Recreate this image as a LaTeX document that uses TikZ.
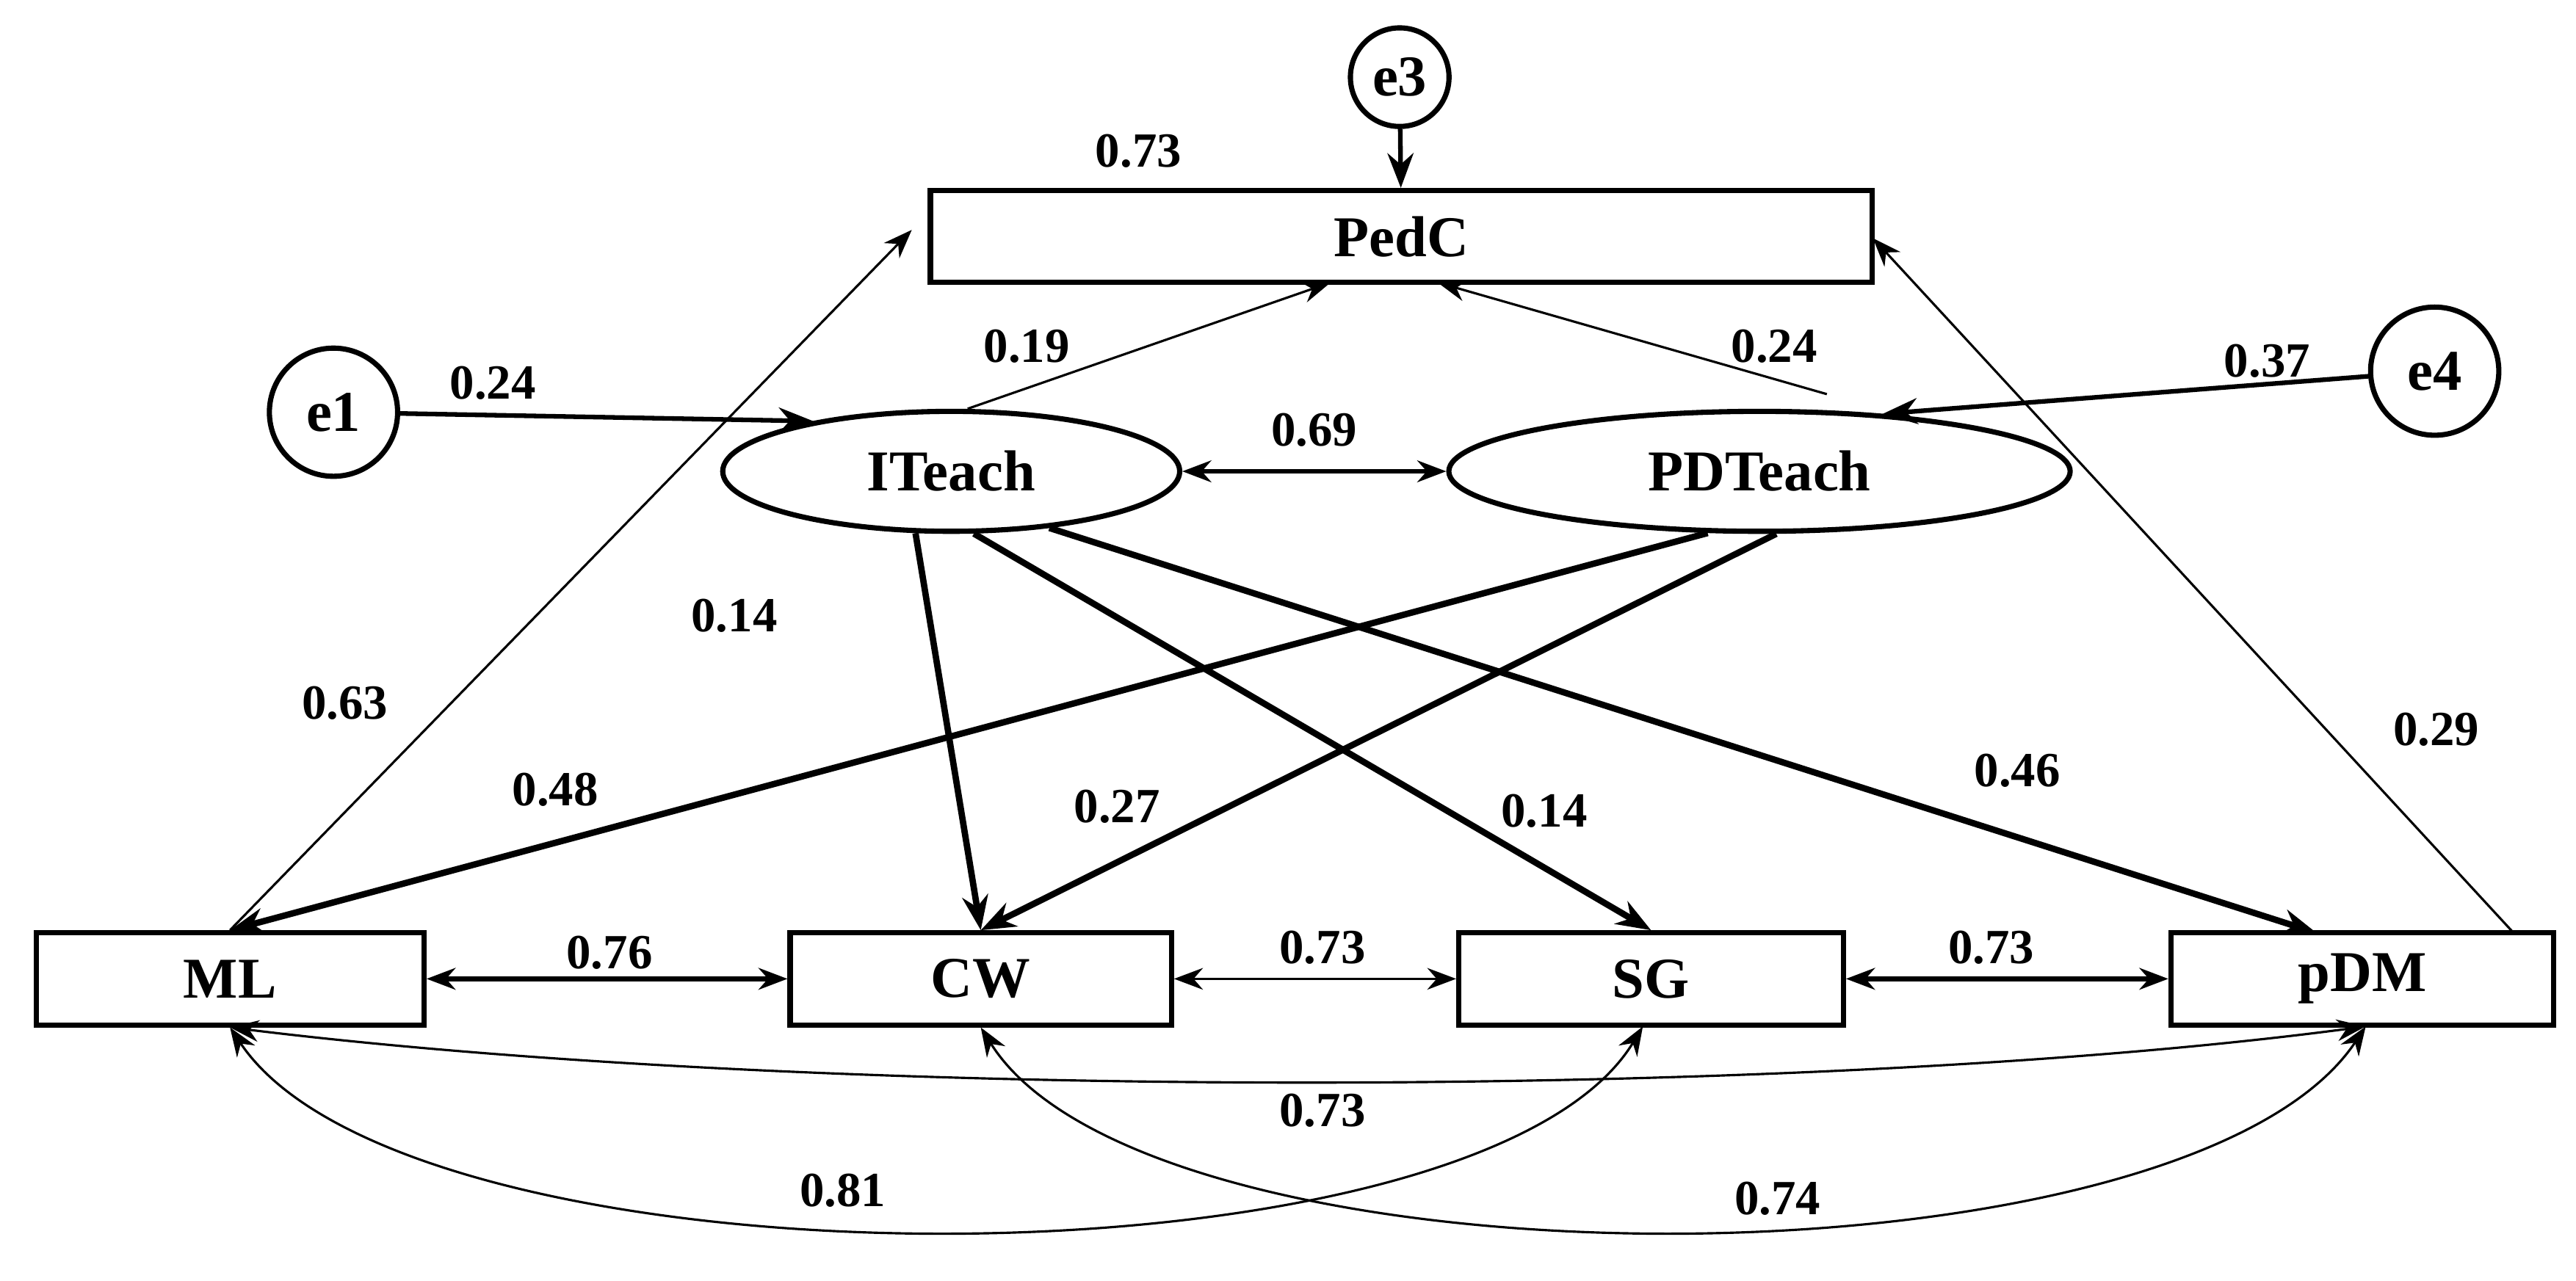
\documentclass[tikz,border=0pt]{standalone}
\usepackage{fontspec}
\setmainfont{Liberation Serif}
\usetikzlibrary{shapes.geometric,arrows.meta}
\begin{document}
\begin{tikzpicture}[x=0.01cm,y=-0.01cm,
  box/.style={draw,line width=0.9pt,minimum height=0.56cm,font=\fontsize{10}{12}\selectfont\bfseries},
  lat/.style={draw,ellipse,line width=0.9pt,minimum width=2.78cm,minimum height=0.73cm,font=\fontsize{10}{12}\selectfont\bfseries},
  err/.style={draw,circle,line width=0.9pt,minimum size=0.6cm,inner sep=0pt,font=\fontsize{10}{12}\selectfont\bfseries},
  lab/.style={font=\fontsize{8.5}{10}\selectfont\bfseries},
  thin/.style={-{Stealth[length=5pt]},line width=0.4pt},
  med/.style={-{Stealth[length=6pt]},line width=0.8pt},
  thick/.style={-{Stealth[length=6pt]},line width=1.1pt},
  dbl/.style={{Stealth[length=5pt]}-{Stealth[length=5pt]},line width=0.8pt},
  dblt/.style={{Stealth[length=5pt]}-{Stealth[length=5pt]},line width=0.4pt}]
\useasboundingbox (0,0) rectangle (1568,780);
\node[err] (e3) at (852,47) {e3};
\node[box,minimum width=5.73cm] (pedc) at (853,144) {PedC};
\node[err,minimum width=0.78cm] (e1) at (203,251) {e1};
\node[err,minimum width=0.78cm] (e4) at (1482,226) {e4};
\node[lat] (it) at (579,287) {ITeach};
\node[lat,minimum width=3.78cm] (pd) at (1071,287) {PDTeach};
\node[box,minimum width=2.36cm] (ml) at (140,596) {ML};
\node[box,minimum width=2.32cm] (cw) at (597,596) {CW};
\node[box,minimum width=2.34cm] (sg) at (1005,596) {SG};
\node[box,minimum width=2.33cm] (pdm) at (1438,596) {pDM};
\coordinate (pl) at (555,140);
\coordinate (pc1) at (810,172);
\coordinate (pc2) at (875,172);
\coordinate (pr) at (1140,145);
\draw[med] (e3) -- (pedc);
\draw[thin] (ml.north) -- (pl);
\draw[thin] (it.north) ++(10,0) -- (pc1);
\draw[thin] (1112,240) -- (pc2);
\draw[thin] (1530,568) -- (pr);
\draw[med] (e1) -- (it.160);
\draw[med] (e4) -- (pd.25);
\draw[dbl] (it.east) -- (pd.west);
\draw[thick] (it.240) -- (cw.north);
\draw[thick] (it.290) -- (sg.north);
\draw[thick] (it.330) -- (1410,568);
\draw[thick] (pd.230) -- (ml.north);
\draw[thick] (pd.285) -- (cw.north);
\draw[dbl] (ml) -- (cw);
\draw[dblt] (cw) -- (sg);
\draw[dbl] (sg) -- (pdm);
\draw[dblt] (ml.south) .. controls (500,670) and (1100,670) .. (1440,625);
\draw[dblt] (ml.south) .. controls (250,790) and (900,790) .. (1000,625);
\draw[dblt] (cw.south) .. controls (700,790) and (1330,790) .. (1440,625);
\node[lab] at (693,92) {0.73};
\node[lab] at (625,211) {0.19};
\node[lab] at (1080,211) {0.24};
\node[lab] at (300,233) {0.24};
\node[lab] at (1380,220) {0.37};
\node[lab] at (800,262) {0.69};
\node[lab] at (447,375) {0.14};
\node[lab] at (210,428) {0.63};
\node[lab] at (338,481) {0.48};
\node[lab] at (680,491) {0.27};
\node[lab] at (940,494) {0.14};
\node[lab] at (1228,469) {0.46};
\node[lab] at (1483,444) {0.29};
\node[lab] at (371,580) {0.76};
\node[lab] at (805,577) {0.73};
\node[lab] at (1212,577) {0.73};
\node[lab] at (805,676) {0.73};
\node[lab] at (513,725) {0.81};
\node[lab] at (1082,730) {0.74};
\end{tikzpicture}
\end{document}
